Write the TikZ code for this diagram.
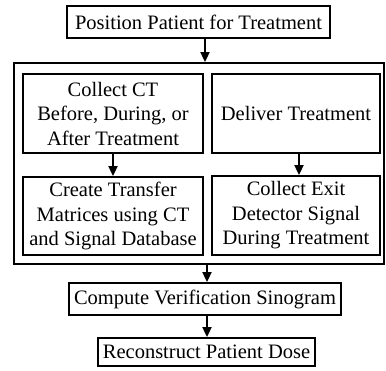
\documentclass[tikz,border=0pt]{standalone}
\usepackage{fontspec}
\setmainfont{Liberation Serif}
\usetikzlibrary{arrows.meta}
\begin{document}
\begin{tikzpicture}[x=1pt,y=-1pt,
  box/.style={draw=black, line width=1.8pt, inner sep=0pt, align=center,
    font=\fontsize{20.5}{24.5}\selectfont},
  arr/.style={line width=1.8pt, -{Triangle[width=9pt,length=10pt]}}]
\useasboundingbox (0,0) rectangle (386,370);
\node[box, minimum width=263pt, minimum height=32pt] (top) at (198.5,22) {Position Patient for Treatment};
\node[box, minimum width=370pt, minimum height=201pt] (outer) at (199,163.5) {};
\node[box, minimum width=180pt, minimum height=79pt] (tl) at (113,113.5) {Collect CT\\Before, During, or\\After Treatment};
\node[box, minimum width=168pt, minimum height=79pt] (tr) at (296,113.5) {Deliver Treatment};
\node[box, minimum width=180pt, minimum height=78pt] (bl) at (113,216) {Create Transfer\\Matrices using CT\\and Signal Database};
\node[box, minimum width=168pt, minimum height=79pt] (br) at (296,215.5) {Collect Exit\\Detector Signal\\During Treatment};
\node[box, minimum width=272pt, minimum height=32pt] (comp) at (205,299) {Compute Verification Sinogram};
\node[box, minimum width=217pt, minimum height=28pt] (rec) at (206.5,352) {Reconstruct Patient Dose};
\coordinate (xa) at (205,0);
\coordinate (xb) at (113,0);
\coordinate (xc) at (299,0);
\coordinate (xd) at (207,0);
\draw[arr] (top.south -| xa) -- (outer.north -| xa);
\draw[arr] (tl.south -| xb) -- (bl.north -| xb);
\draw[arr] (tr.south -| xc) -- (br.north -| xc);
\draw[arr] (outer.south -| xd) -- (comp.north -| xd);
\draw[arr] (comp.south -| xd) -- (rec.north -| xd);
\end{tikzpicture}
\end{document}
